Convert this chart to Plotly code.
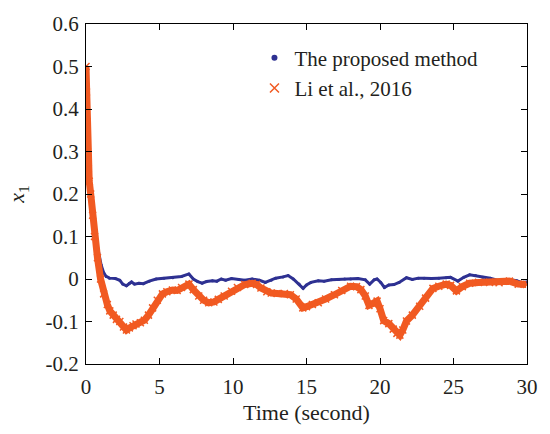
import plotly.graph_objects as go

# Data
t_prop = [0, 0.03, 0.06, 0.09, 0.15, 0.22, 0.32, 0.45, 0.58, 0.7, 0.81, 0.92, 1.03, 1.2, 1.37, 1.6, 2.0,
          2.3, 2.5, 2.75, 2.95, 3.1, 3.3, 3.6, 3.9, 4.3, 4.77, 5.3, 5.9, 6.5, 7.0, 7.3, 7.6, 7.9, 8.2,
          8.6, 8.9, 9.2, 9.5, 9.9, 10.4, 10.8, 11.3, 11.8, 12.2, 12.6, 12.9, 13.4, 13.75, 14.1, 14.5,
          14.77, 15.0, 15.3, 15.8, 16.2, 16.7, 17.2, 17.6, 18.0, 18.5, 19.0, 19.3, 19.6, 19.8, 20.05,
          20.3, 20.6, 20.95, 21.3, 21.8, 22.2, 22.6, 23.0, 23.5, 24.0, 24.5, 24.8, 25.3, 25.7, 26.1,
          26.5, 27.0, 27.5, 28.1, 28.5, 28.8, 29.3, 29.6, 30.0]
x1_prop = [0.5, 0.44, 0.37, 0.3, 0.26, 0.23, 0.2, 0.15, 0.11, 0.085, 0.071, 0.052, 0.033, 0.015, 0.006,
           0.002, 0.001, -0.003, -0.012, -0.016, -0.01, -0.007, -0.012, -0.01, -0.011, -0.005, 0.0,
           0.002, 0.003, 0.006, 0.012, 0.0, -0.006, -0.01, -0.006, -0.004, -0.005, 0.0, -0.003, 0.001,
           -0.001, -0.003, 0.0, -0.003, -0.008, -0.003, 0.002, 0.005, 0.008, 0.0, -0.012, -0.022,
           -0.014, -0.008, -0.004, -0.005, -0.002, -0.001, 0.0, 0.0, 0.001, -0.002, -0.012, -0.002,
           0.0, -0.008, -0.02, -0.014, -0.013, -0.008, 0.003, -0.001, 0.002, 0.002, 0.001, 0.002,
           0.003, 0.004, -0.005, 0.004, 0.01, 0.008, 0.004, 0.002, -0.004, -0.002, -0.001, -0.004,
           -0.008, -0.007]

t_li = [0, 0.03, 0.06, 0.09, 0.15, 0.22, 0.32, 0.45, 0.58, 0.78, 0.99, 1.2, 1.45, 1.62, 1.85, 2.07,
        2.3, 2.55, 2.75, 2.95, 3.2, 3.4, 3.7, 3.97, 4.25, 4.53, 4.85, 5.2, 5.5, 5.88, 6.2, 6.5, 7.0,
        7.3, 7.67, 8.0, 8.35, 8.7, 9.0, 9.4, 9.9, 10.3, 10.8, 11.3, 11.6, 11.9, 12.3, 12.6, 13.0, 13.5,
        13.9, 14.3, 14.75, 15.0, 15.4, 15.8, 16.3, 16.9, 17.4, 18.0, 18.4, 18.7, 19.0, 19.25, 19.5,
        19.8, 20.0, 20.25, 20.6, 20.9, 21.15, 21.35, 21.55, 21.8, 22.2, 22.7, 23.1, 23.6, 24.0, 24.5,
        24.8, 25.2, 25.6, 26.1, 26.7, 27.45, 28.1, 28.8, 29.4, 29.95]
x1_li = [0.5, 0.44, 0.37, 0.3, 0.26, 0.23, 0.2, 0.15, 0.1, 0.05, 0.0, -0.035, -0.06, -0.075, -0.085,
         -0.095, -0.1, -0.113, -0.12, -0.115, -0.11, -0.106, -0.103, -0.097, -0.085, -0.068, -0.05,
         -0.035, -0.03, -0.026, -0.027, -0.02, -0.012, -0.025, -0.04, -0.05, -0.056, -0.054, -0.048,
         -0.04, -0.029, -0.02, -0.013, -0.01, -0.013, -0.021, -0.03, -0.033, -0.034, -0.034, -0.037,
         -0.047, -0.068, -0.065, -0.06, -0.056, -0.047, -0.037, -0.027, -0.017, -0.018, -0.025, -0.04,
         -0.062, -0.058, -0.052, -0.07, -0.098, -0.105, -0.118, -0.128, -0.132, -0.12, -0.099, -0.085,
         -0.064, -0.045, -0.022, -0.017, -0.012, -0.015, -0.028, -0.018, -0.01, -0.008, -0.008, -0.009,
         -0.005, -0.012, -0.013]

x_ticks = [0, 5, 10, 15, 20, 25, 30]
y_ticks = [-0.2, -0.1, 0, 0.1, 0.2, 0.3, 0.4, 0.5, 0.6]
y_tick_text = ["-0.2", "-0.1", "0", "0.1", "0.2", "0.3", "0.4", "0.5", "0.6"]

blue = "#2e3192"
orange = "#f15a22"
font = "Liberation Serif"
txt = "#231f20"

fig = go.Figure()
fig.add_trace(go.Scatter(x=t_prop, y=x1_prop, mode="lines+markers", showlegend=False,
                         line=dict(color=blue, width=3),
                         marker=dict(symbol="circle", size=3, color=blue)))
fig.add_trace(go.Scatter(x=t_li, y=x1_li, mode="lines+markers", showlegend=False,
                         line=dict(color=orange, width=7),
                         marker=dict(symbol="x-thin", size=7, color=orange,
                                     line=dict(color=orange, width=1.5))))
# legend entries
fig.add_trace(go.Scatter(x=[None], y=[None], mode="markers", name="The proposed method",
                         marker=dict(symbol="circle", size=6, color=blue)))
fig.add_trace(go.Scatter(x=[None], y=[None], mode="markers", name="Li et al., 2016",
                         marker=dict(symbol="x-thin", size=9, color=orange,
                                     line=dict(color=orange, width=1.5))))

axis_common = dict(showline=True, linecolor="black", linewidth=1, mirror="ticks",
                   ticks="inside", ticklen=6, tickcolor="black", showgrid=False, zeroline=False,
                   tickfont=dict(family=font, size=21, color=txt))

fig.update_layout(
    width=550, height=434,
    margin=dict(l=86, r=19, t=19, b=70),
    paper_bgcolor="white", plot_bgcolor="white",
    font=dict(family=font, color=txt),
    xaxis=dict(range=[0, 30], tickvals=x_ticks, ticklabelstandoff=4,
               title=dict(text="Time (second)", font=dict(family=font, size=22, color=txt), standoff=6),
               **axis_common),
    yaxis=dict(range=[-0.2, 0.6], tickvals=y_ticks, ticktext=y_tick_text, ticklabelstandoff=2,
               title=dict(text="<i>x</i><sub>1</sub>", font=dict(family=font, size=22, color=txt), standoff=14),
               **axis_common),
    legend=dict(x=0.382, y=0.96, xanchor="left", yanchor="top", bgcolor="rgba(0,0,0,0)",
                font=dict(family=font, size=21, color=txt), itemwidth=30,
                tracegroupgap=0),
)

fig.write_html("out.html")
